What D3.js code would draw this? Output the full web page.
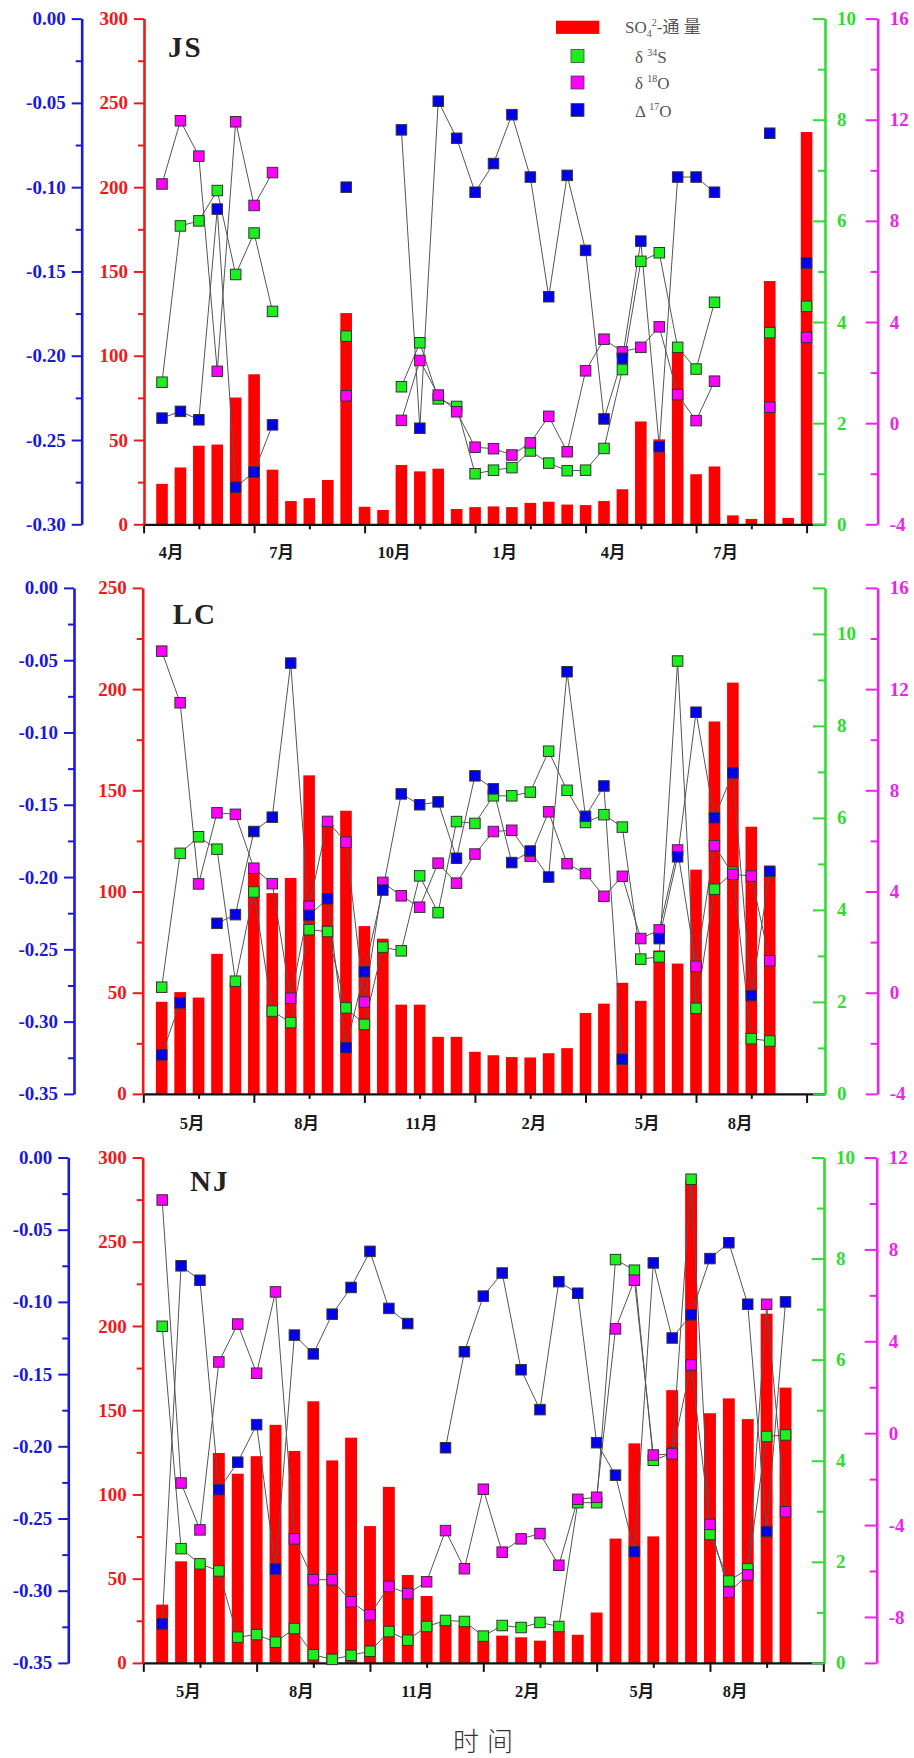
<!DOCTYPE html>
<html><head><meta charset="utf-8">
<script src="https://cdn.jsdelivr.net/npm/d3@7"></script>
<style>
body{margin:0;background:#fff;}
svg text{font-family:"Liberation Serif","Times New Roman","Noto Sans CJK SC",serif;}
</style></head><body>
<svg id="chart" width="914" height="1758"></svg>
<script>
// ===== DATA =====
// JS site (36 sampling periods)
const JS_flux = [24, 33.7, 46.6, 47.3, 75.2, 89, 32.4, 13.8, 15.5, 26.3, 125.3, 10.4, 8.5, 35.2, 31.4, 33, 9.1, 10.2, 10.6, 10.2, 12.7, 13.4, 11.7, 11.4, 13.8, 20.8, 61, 50.4, 102.3, 29.7, 34.3, 5.3, 3.2, 144.3, 3.8, 232.7];
const JS_d34S = [2.81, 5.90, 6.00, 6.60, 4.94, 5.76, 4.21, null, null, null, 3.72, null, null, 2.72, 3.59, 2.48, 2.33, 1.0, 1.07, 1.12, 1.45, 1.21, 1.06, 1.07, 1.50, 3.06, 5.20, 5.37, 3.50, 3.07, 4.39, null, null, 3.79, null, 4.31];
const JS_d18O = [9.46, 11.96, 10.56, 2.05, 11.92, 8.61, 9.91, null, null, null, 1.08, null, null, 0.11, 2.48, 1.11, 0.45, -0.95, -1.01, -1.26, -0.78, 0.27, -1.13, 2.07, 3.32, 2.82, 3.0, 3.81, 1.13, 0.10, 1.66, null, null, 0.63, null, 3.39];
const JS_D17O = [-0.237, -0.233, -0.238, -0.113, -0.278, -0.269, -0.241, null, null, null, -0.100, null, null, -0.066, -0.243, -0.049, -0.071, -0.103, -0.086, -0.057, -0.094, -0.165, -0.093, -0.1375, -0.2375, -0.2015, -0.132, -0.254, -0.094, -0.094, -0.103, null, null, -0.068, null, -0.145];
const JS_months = ["4月", "7月", "10月", "1月", "4月", "7月"];
const JS_monthPos = [0.5, 6.5, 12.6, 18.6, 24.5, 30.6];

// LC site (34 sampling periods)
const LC_flux = [45.5, 50.3, 47.6, 69.2, 55, 109.4, 99.2, 106.7, 157.4, 133, 139.9, 82.9, 76.7, 44.1, 44.1, 28.2, 28.2, 20.8, 19.1, 18.2, 18.0, 20.1, 22.6, 40.0, 44.6, 54.9, 46.0, 70.9, 64.4, 110.8, 184.0, 203.2, 132, 112];
const LC_d34S = [2.32, 5.23, 5.59, 5.32, 2.45, 4.39, 1.80, 1.55, 3.57, 3.53, 1.87, 1.51, 3.19, 3.11, 4.74, 3.94, 5.92, 5.88, 6.48, 6.48, 6.56, 7.45, 6.60, 5.90, 6.07, 5.80, 2.93, 2.98, 9.41, 1.86, 4.45, 4.82, 1.20, 1.15];
const LC_d18O = [13.5, 11.46, 4.30, 7.11, 7.05, 4.92, 4.31, -0.22, 3.41, 6.77, 5.95, -0.37, 4.36, 3.83, 3.38, 5.12, 4.33, 5.48, 6.37, 6.42, 5.39, 7.15, 5.10, 4.71, 3.81, 4.60, 2.14, 2.48, 5.64, 1.04, 5.81, 4.68, 4.61, 1.26];
const LC_D17O = [-0.323, -0.287, null, -0.232, -0.226, -0.1685, -0.1586, -0.052, -0.2265, -0.215, -0.318, -0.2655, -0.209, -0.1425, -0.150, -0.148, -0.187, -0.130, -0.139, -0.190, -0.182, -0.200, -0.058, -0.158, -0.137, -0.326, null, -0.2426, -0.186, -0.086, -0.159, -0.128, -0.282, -0.196];
const LC_months = ["5月", "8月", "11月", "2月", "5月", "8月"];
const LC_monthPos = [1.65, 7.86, 14.1, 20.2, 26.35, 31.4];

// NJ site (34 sampling periods)
const NJ_flux = [34.6, 60.3, 59, 124.6, 112.3, 122.7, 141.3, 125.8, 155.3, 120.2, 133.7, 81.2, 104.5, 52.2, 39.7, 24, 22, 13.0, 16.2, 15.2, 13.2, 19.1, 16.7, 29.9, 73.8, 130.3, 75.1, 161.9, 287, 148.2, 157, 144.7, 207.3, 163.4];
const NJ_d34S = [6.66, 2.26, 1.96, 1.82, 0.51, 0.56, 0.41, 0.68, 0.16, 0.07, 0.15, 0.23, 0.62, 0.45, 0.72, 0.84, 0.82, 0.53, 0.74, 0.70, 0.80, 0.72, 3.17, 3.17, 7.98, 7.77, 4.01, 4.15, 9.57, 2.54, 1.62, 1.86, 4.48, 4.51];
const NJ_d18O = [10.15, -2.17, -4.21, 3.10, 4.75, 2.61, 6.15, -4.60, -6.38, -6.38, -7.34, -7.91, -6.67, -6.98, -6.47, -4.24, -5.90, -2.44, -5.18, -4.60, -4.37, -5.75, -2.88, -2.79, 4.54, 6.66, -0.95, -0.90, 2.97, -3.97, -6.92, -6.17, 5.61, -3.42];
const NJ_D17O = [-0.323, -0.075, -0.085, -0.230, -0.211, -0.185, -0.285, -0.123, -0.136, -0.1085, -0.090, -0.065, -0.1045, -0.115, null, -0.201, -0.1345, -0.096, -0.080, -0.147, -0.1746, -0.086, -0.094, -0.1975, -0.220, -0.273, -0.073, -0.125, -0.109, -0.070, -0.059, -0.1016, -0.259, -0.100];
const NJ_months = ["5月", "8月", "11月", "2月", "5月", "8月"];
const NJ_monthPos = [1.39, 7.37, 13.5, 19.33, 25.4, 30.33];

// ===== STYLE =====
const C = {
  blue: "#1a1ad6", red: "#ee1a1a", green: "#2fdc2f", mag: "#ea24ea",
  bar: "#ff0000", gFill: "#1cf01c", mFill: "#ff00ff", bFill: "#0000ee",
  line: "#555"
};

const panels = [
  {name: "JS", nameX: 168, nameY: 57, flux: JS_flux, s34: JS_d34S, o18: JS_d18O, o17: JS_D17O,
   months: JS_months, monthPos: JS_monthPos,
   top: 18.6, bottom: 524.3, xr: [143.6, 825], xDom: [-1, 36],
   blueX: 81.7, redX: 144, greenX: 825, magX: 877.7,
   redDom: [0, 300], blueDom: [-0.30, 0], greenDom: [0, 10], magDom: [-4, 16],
   greenMajor: [0, 2, 4, 6, 8, 10], magMajor: [-4, 0, 4, 8, 12, 16], magMinor: [-2, 2, 6, 10, 14], labelY: 552},
  {name: "LC", nameX: 172.7, nameY: 624, flux: LC_flux, s34: LC_d34S, o18: LC_d18O, o17: LC_D17O,
   months: LC_months, monthPos: LC_monthPos,
   top: 587.9, bottom: 1093.9, xr: [143.3, 825], xDom: [-1, 36],
   blueX: 74, redX: 142.7, greenX: 825, magX: 877.7,
   redDom: [0, 250], blueDom: [-0.35, 0], greenDom: [0, 11], magDom: [-4, 16],
   greenMajor: [0, 2, 4, 6, 8, 10, 11], magMajor: [-4, 0, 4, 8, 12, 16], magMinor: [-2, 2, 6, 10, 14], labelY: 1123},
  {name: "NJ", nameX: 190, nameY: 1190.6, flux: NJ_flux, s34: NJ_d34S, o18: NJ_d18O, o17: NJ_D17O,
   months: NJ_months, monthPos: NJ_monthPos,
   top: 1157.5, bottom: 1662.9, xr: [143.3, 823.3], xDom: [-1, 35],
   blueX: 68.3, redX: 142.7, greenX: 824, magX: 876.7,
   redDom: [0, 300], blueDom: [-0.35, 0], greenDom: [0, 10], magDom: [-10, 12],
   greenMajor: [0, 2, 4, 6, 8, 10], magMajor: [-10, -8, -4, 0, 4, 8, 12], magMinor: [-6, -2, 2, 6, 10], labelY: 1690.6}
];

const svg = d3.select("#chart");
const FONT = "bold 19px 'Liberation Serif', 'Times New Roman', serif";

function styleAxis(g, color, domainW) {
  g.select(".domain").attr("stroke", color).attr("stroke-width", domainW);
  g.selectAll(".tick line").attr("stroke", color).attr("stroke-width", 2);
  g.selectAll(".tick text").attr("fill", color).style("font", FONT);
}

function yAxis(p, scale, x, side, color, major, minor, fmt) {
  const g = svg.append("g").attr("transform", `translate(${x},0)`);
  let ax, axm;
  if (side === "left") {
    ax = d3.axisLeft(scale).tickValues(major).tickFormat(fmt).tickSizeInner(10).tickSizeOuter(0).tickPadding(6);
    axm = d3.axisLeft(scale).tickValues(minor).tickFormat("").tickSizeInner(6).tickSizeOuter(0);
  } else {
    ax = d3.axisRight(scale).tickValues(major).tickFormat(fmt).tickSizeInner(-12).tickSizeOuter(0).tickPadding(12);
    axm = d3.axisRight(scale).tickValues(minor).tickFormat("").tickSizeInner(-7).tickSizeOuter(0);
  }
  g.call(ax);
  styleAxis(g, color, 2.6);
  const gm = svg.append("g").attr("transform", `translate(${x},0)`).call(axm);
  gm.select(".domain").remove();
  gm.selectAll(".tick line").attr("stroke", color).attr("stroke-width", 2);
}

panels.forEach(p => {
  const x = d3.scaleLinear().domain(p.xDom).range(p.xr);
  const step = x(1) - x(0);
  const yR = d3.scaleLinear().domain(p.redDom).range([p.bottom, p.top]);
  const yB = d3.scaleLinear().domain(p.blueDom).range([p.bottom, p.top]);
  const yG = d3.scaleLinear().domain(p.greenDom).range([p.bottom, p.top]);
  const yM = d3.scaleLinear().domain(p.magDom).range([p.bottom, p.top]);

  // Bars
  const bw = step * 0.63;
  svg.append("g").selectAll("rect").data(p.flux).join("rect")
    .attr("x", (d, i) => x(i) - bw / 2).attr("width", bw)
    .attr("y", d => yR(d)).attr("height", d => p.bottom - yR(d))
    .attr("fill", C.bar);

  // X axis
  const xMajor = d3.range(p.xDom[0], 35.5, 6);
  const xMinor = d3.range(p.xDom[0] + 3, 35, 6);
  const gx = svg.append("g").attr("transform", `translate(0,${p.bottom})`)
    .call(d3.axisBottom(x).tickValues(xMajor).tickFormat("").tickSizeInner(9).tickSizeOuter(0));
  gx.select(".domain").attr("stroke", "#111").attr("stroke-width", 2.2);
  gx.selectAll(".tick line").attr("stroke", "#111").attr("stroke-width", 2);
  const gxm = svg.append("g").attr("transform", `translate(0,${p.bottom})`)
    .call(d3.axisBottom(x).tickValues(xMinor).tickFormat("").tickSizeInner(5).tickSizeOuter(0));
  gxm.select(".domain").remove();
  gxm.selectAll(".tick line").attr("stroke", "#111").attr("stroke-width", 2);

  svg.append("g").selectAll("text").data(p.months).join("text")
    .attr("x", (d, i) => x(p.monthPos[i])).attr("y", p.labelY + 6)
    .attr("text-anchor", "middle").attr("fill", "#1a1a1a")
    .style("font-weight", "bold").style("font-size", "16.5px")
    .text(d => d);

  // Y axes
  const bMaj = d3.range(0, p.blueDom[0] - 1e-9, -0.05);
  const bMin = bMaj.slice(0, -1).map(v => v - 0.025);
  yAxis(p, yB, p.blueX, "left", C.blue, bMaj, bMin, d => Math.abs(d) < 1e-9 ? "0.00" : d.toFixed(2));
  const rMaj = d3.range(0, p.redDom[1] + 1, 50);
  const rMin = d3.range(25, p.redDom[1], 50);
  yAxis(p, yR, p.redX, "left", C.red, rMaj, rMin, d => d);
  const gMin = [1, 3, 5, 7, 9];
  yAxis(p, yG, p.greenX, "right", C.green, p.greenMajor, gMin, d => d > 10 ? "" : d);
  yAxis(p, yM, p.magX, "right", C.mag, p.magMajor, p.magMinor, d => d === -10 ? "" : d);

  // Lines
  const series = [
    {vals: p.s34, y: yG, fill: C.gFill},
    {vals: p.o18, y: yM, fill: C.mFill},
    {vals: p.o17, y: yB, fill: C.bFill}
  ];
  series.forEach(s => {
    const line = d3.line().defined(d => d != null).x((d, i) => x(i)).y(d => s.y(d));
    svg.append("path").datum(s.vals).attr("d", line)
      .attr("fill", "none").attr("stroke", C.line).attr("stroke-width", 1);
  });
  const ms = 10.5;
  series.forEach(s => {
    const pts = s.vals.map((v, i) => ({v, i})).filter(d => d.v != null);
    svg.append("g").selectAll("rect").data(pts).join("rect")
      .attr("x", d => x(d.i) - ms / 2).attr("y", d => s.y(d.v) - ms / 2)
      .attr("width", ms).attr("height", ms)
      .attr("fill", s.fill).attr("stroke", "#333").attr("stroke-width", 1);
  });

  // Panel name
  svg.append("text").attr("x", p.nameX).attr("y", p.nameY)
    .attr("fill", "#222").style("font-weight", "bold").style("font-size", "29px")
    .style("letter-spacing", "2px").text(p.name);
});

// Legend
const lg = svg.append("g");
lg.append("rect").attr("x", 556).attr("y", 20.7).attr("width", 43.3).attr("height", 13.2).attr("fill", C.bar);
const lt = lg.append("text").attr("x", 625).attr("y", 33).attr("fill", "#555").style("font-size", "17px");
lt.append("tspan").text("SO");
lt.append("tspan").attr("dy", 4).style("font-size", "10px").text("4");
lt.append("tspan").attr("dy", -11).style("font-size", "10px").text("2");
lt.append("tspan").attr("dy", 7).text("-通 量");
const legItems = [
  {fill: C.gFill, cy: 56, base: "δ ", sup: "34", tail: "S"},
  {fill: C.mFill, cy: 82.5, base: "δ ", sup: "18", tail: "O"},
  {fill: C.bFill, cy: 110, base: "Δ ", sup: "17", tail: "O"}
];
legItems.forEach(it => {
  lg.append("rect").attr("x", 571).attr("y", it.cy - 6.5).attr("width", 13).attr("height", 13)
    .attr("fill", it.fill).attr("stroke", "#444").attr("stroke-width", 0.8);
  const t = lg.append("text").attr("x", 635).attr("y", it.cy + 6.5).attr("fill", "#555").style("font-size", "17px");
  t.append("tspan").text(it.base);
  t.append("tspan").attr("dy", -7).style("font-size", "10px").text(it.sup);
  t.append("tspan").attr("dy", 7).text(it.tail);
});

// X title
svg.append("text").attr("x", 487).attr("y", 1751).attr("text-anchor", "middle")
  .attr("fill", "#333").style("font-size", "26px").style("font-family", "'Noto Sans CJK SC', sans-serif")
  .style("font-weight", "300").style("letter-spacing", "8px").text("时间");
</script>
</body></html>
